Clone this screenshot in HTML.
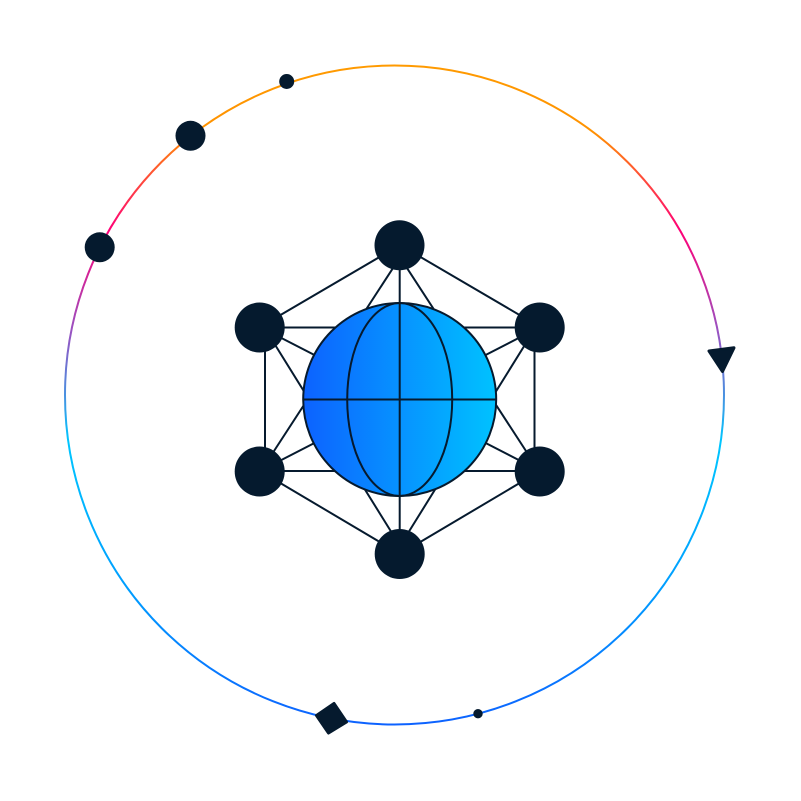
<!DOCTYPE html>
<html>
<head>
<meta charset="utf-8">
<style>
html,body{margin:0;padding:0;background:#fff;}
svg{display:block;}
</style>
</head>
<body>
<svg width="801" height="801" viewBox="0 0 801 801" xmlns="http://www.w3.org/2000/svg">
<defs>
<linearGradient id="ring" gradientUnits="userSpaceOnUse" x1="0" y1="65" x2="0" y2="725">
<stop offset="0" stop-color="#ff9a00"/>
<stop offset="0.1" stop-color="#ff9200"/>
<stop offset="0.25" stop-color="#ff0077"/>
<stop offset="0.4" stop-color="#9c50c0"/>
<stop offset="0.5" stop-color="#4a90e0"/>
<stop offset="0.57" stop-color="#00c6ff"/>
<stop offset="0.8" stop-color="#009cff"/>
<stop offset="1" stop-color="#0d62ff"/>
</linearGradient>
<linearGradient id="globe" gradientUnits="userSpaceOnUse" x1="303" y1="0" x2="496" y2="0">
<stop offset="0" stop-color="#0d62ff"/>
<stop offset="1" stop-color="#00c2ff"/>
</linearGradient>
</defs>
<circle cx="394.500" cy="395" r="329.500" fill="none" stroke="url(#ring)" stroke-width="2"/>
<g stroke="#061a2e" stroke-width="2" fill="none">
<path d="M400 245L260 327M400 245L540 327M260 471L400 554M540 471L400 554"/>
<path d="M265 327V471M534.500 327V471M399.700 245V554"/>
<path d="M260 327.500H540M260 471H540"/>
<path d="M408 245L261 471M392 245L539 471M264 327L405 554M536 327L395 554"/>
<path d="M260 327L540 471M540 327L260 471"/>
</g>
<g fill="#051a2e">
<circle cx="399.500" cy="245.300" r="25"/>
<circle cx="259.700" cy="327.500" r="25"/>
<circle cx="539.700" cy="327.500" r="25"/>
<circle cx="259.700" cy="471.500" r="25"/>
<circle cx="539.700" cy="471.500" r="25"/>
<circle cx="399.700" cy="554" r="25"/>
<circle cx="286.700" cy="81.500" r="7.500"/>
<circle cx="190.500" cy="135.800" r="15"/>
<circle cx="99.700" cy="247.300" r="15"/>
<circle cx="478" cy="713.700" r="4.700"/>
</g>
<g stroke="#061a2e" stroke-width="2">
<circle cx="399.700" cy="399.500" r="96.500" fill="url(#globe)"/>
<ellipse cx="399.700" cy="399.500" rx="52.500" ry="96.500" fill="none"/>
<path d="M303 399.500H496M399.700 303V496" fill="none"/>
</g>
<path d="M709 351L734 347.800L722.500 371.500Z" fill="#051a2e" stroke="#051a2e" stroke-width="3" stroke-linejoin="round"/>
<path d="M316.500 715.500L334 703.500L346.500 722L328.500 733Z" fill="#051a2e" stroke="#051a2e" stroke-width="3" stroke-linejoin="round"/>
</svg>
</body>
</html>
